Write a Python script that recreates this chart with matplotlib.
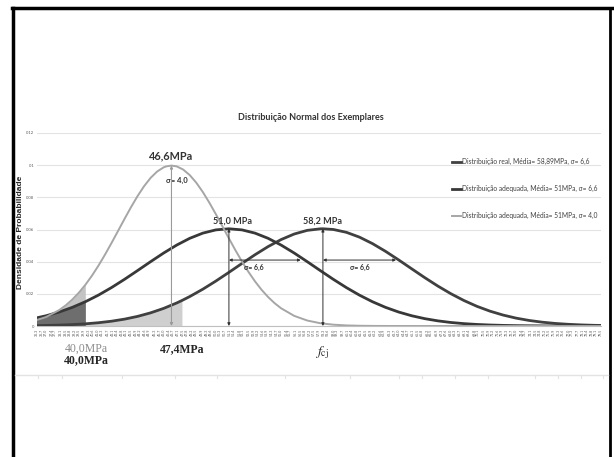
import numpy as np
import matplotlib
matplotlib.use('Agg')
import matplotlib.pyplot as plt
from matplotlib.lines import Line2D

plt.rcParams['font.family'] = ['Lato', 'DejaVu Sans']

# Density values (real distribution, mean 58.2, sigma 6.6)
x_real = [36, 37, 38, 39, 40, 41, 42, 43, 44, 45, 46, 47, 47.4, 48, 49, 50, 51, 52, 53, 54,
          55, 56, 57, 58, 58.2, 59, 60, 61, 62, 63, 64, 65, 66, 67, 68, 69, 70, 71, 72, 73,
          74, 75, 76, 77, 78, 79, 80]
y_real = [0.00021, 0.00035, 0.00056, 0.00088, 0.00135, 0.00203, 0.00297, 0.00426, 0.00597,
          0.00818, 0.01095, 0.01432, 0.01585, 0.01831, 0.02288, 0.02794, 0.03335, 0.03889,
          0.04432, 0.04937, 0.05375, 0.05719, 0.05946, 0.06042, 0.06045, 0.06001, 0.05824,
          0.05525, 0.05121, 0.04640, 0.04109, 0.03556, 0.03007, 0.02485, 0.02008, 0.01585,
          0.01222, 0.00922, 0.00680, 0.00489, 0.00344, 0.00237, 0.00159, 0.00105, 0.00067,
          0.00042, 0.00026]

# Adequate distribution, mean 51, sigma 6.6
x_adq = list(range(36, 81))
y_adq = [0.00457, 0.00637, 0.00869, 0.01158, 0.01507, 0.01918, 0.02386, 0.02900, 0.03445,
         0.03999, 0.04537, 0.05031, 0.05452, 0.05774, 0.05976, 0.06045, 0.05976, 0.05774,
         0.05452, 0.05031, 0.04537, 0.03999, 0.03445, 0.02900, 0.02386, 0.01918, 0.01507,
         0.01158, 0.00869, 0.00637, 0.00457, 0.00320, 0.00219, 0.00147, 0.00096, 0.00061,
         0.00038, 0.00023, 0.00014, 0.00008, 0.00005, 0.00003, 0.00002, 0.00001, 0.00001]

# Adequate distribution, sigma 4.0 (peak at 46.6)
x_adq4 = [36, 37, 38, 38.5, 39, 39.5, 40, 40.5, 41, 41.5, 42, 42.5, 43, 43.5, 44, 44.5, 45,
          45.5, 46, 46.2, 46.6, 47, 47.5, 48, 48.5, 49, 49.5, 50, 50.5, 51, 51.5, 52, 52.5,
          53, 53.5, 54, 54.5, 55, 56, 57, 58, 59, 60, 61, 62, 63, 64, 65, 66, 67, 68, 69, 70,
          71, 72, 73, 74, 75, 76, 77, 78, 79, 80]
y_adq4 = [0.00298, 0.00560, 0.00989, 0.01284, 0.01640, 0.02064, 0.02557, 0.03118, 0.03743,
          0.04425, 0.05149, 0.05899, 0.06653, 0.07387, 0.08075, 0.08690, 0.09208, 0.09604,
          0.09863, 0.09925, 0.09974, 0.09925, 0.09725, 0.09382, 0.08910, 0.08332, 0.07669,
          0.06951, 0.06201, 0.05447, 0.04710, 0.04010, 0.03361, 0.02773, 0.02253, 0.01802,
          0.01419, 0.01100, 0.00630, 0.00340, 0.00172, 0.00082, 0.00036, 0.00015, 0.00006,
          0.00002, 0.00001, 0, 0, 0, 0, 0, 0, 0, 0, 0, 0, 0, 0, 0, 0, 0, 0]

legend_labels = ['Distribuição real, Média= 58,89MPa, σ= 6,6',
                 'Distribuição adequada, Média= 51MPa, σ= 6,6',
                 'Distribuição adequada, Média= 51MPa, σ= 4,0']
x_ticks = np.round(np.arange(36.3, 79.6, 0.36), 1)
y_ticks = [0, 0.02, 0.04, 0.06, 0.08, 0.1, 0.12]
y_tick_labels = ['0', '0.02', '0.04', '0.06', '0.08', '0.1', '0.12']

W, H = 614, 457
fig = plt.figure(figsize=(W / 100, H / 100), dpi=100)
fig.patch.set_facecolor('white')


def fx(px):
    return px / W


def fy(py):
    return 1 - py / H


ax = fig.add_axes([fx(37), fy(326), fx(601) - fx(37), fy(133) - fy(326)])
ax.set_xlim(36.3, 79.5)
ax.set_ylim(0, 0.12)

# shaded areas
xr, yr = np.array(x_real), np.array(y_real)
m = xr <= 47.4
ax.fill_between(xr[m], 0, yr[m], color='#cfcfcf', lw=0, zorder=1)
xc, yc = np.array(x_adq4), np.array(y_adq4)
m = xc <= 40.0
ax.fill_between(xc[m], 0, yc[m], color='#c4c4c4', lw=0, zorder=1)
xa, ya = np.array(x_adq), np.array(y_adq)
m = xa <= 40.0
ax.fill_between(xa[m], 0, ya[m], color='#6e6e6e', lw=0, zorder=1.5)

ax.plot(x_real, y_real, color='#404040', lw=2, label=legend_labels[0], zorder=3)
ax.plot(x_adq, y_adq, color='#383838', lw=2, label=legend_labels[1], zorder=3)
ax.plot(x_adq4, y_adq4, color='#a6a6a6', lw=1.4, label=legend_labels[2], zorder=3)

ax.set_yticks(y_ticks)
ax.set_yticklabels(y_tick_labels, fontsize=3, color='#595959')
ax.set_xticks(x_ticks)
ax.set_xticklabels([f'{v:.1f}' for v in x_ticks], rotation=90, fontsize=2.6, color='#595959')
ax.tick_params(axis='both', length=0, pad=2)
ax.grid(axis='y', color='#e3e3e3', lw=0.8)
ax.set_axisbelow(True)
for s in ['top', 'right', 'left']:
    ax.spines[s].set_visible(False)
ax.spines['bottom'].set_color('#bfbfbf')
fig.text(fx(21), fy(232), 'Densidade de Probabilidade', rotation=90, ha='center', va='center',
         fontsize=6, fontweight='bold', family='Liberation Sans', color='#262626')

# peak arrows
peak4 = max(y_adq4)
peak_adq = max(y_adq)
peak_real = max(y_real)
arrow_dark = dict(arrowstyle='<|-|>', color='#303030', lw=0.7, mutation_scale=4,
                  shrinkA=0, shrinkB=0)
ax.annotate('', xy=(46.6, peak4), xytext=(46.6, 0),
            arrowprops=dict(arrow_dark, color='#9a9a9a', lw=0.8), zorder=4)
ax.annotate('', xy=(51.0, peak_adq), xytext=(51.0, 0), arrowprops=arrow_dark, zorder=4)
ax.annotate('', xy=(58.2, peak_real), xytext=(58.2, 0), arrowprops=arrow_dark, zorder=4)
# sigma arrows
ax.annotate('', xy=(56.5, 0.041), xytext=(51.0, 0.041), arrowprops=arrow_dark, zorder=4)
ax.annotate('', xy=(63.8, 0.041), xytext=(58.2, 0.041), arrowprops=arrow_dark, zorder=4)

ax.text(46.6, peak4 + 0.0025, '46,6MPa', ha='center', va='bottom', fontsize=7.8,
        fontweight='bold', color='#333333')
ax.text(51.3, peak_adq + 0.002, '51,0 MPa', ha='center', va='bottom', fontsize=6.5,
        fontweight='bold', color='#333333')
ax.text(58.2, peak_adq + 0.002, '58,2 MPa', ha='center', va='bottom', fontsize=6.5,
        fontweight='bold', color='#333333')
ax.text(47.0, 0.0905, 'σ= 4,0', ha='center', va='center', fontsize=5.5, color='#333333',
        fontweight='bold')
ax.text(52.9, 0.0365, 'σ= 6,6', ha='center', va='center', fontsize=5, color='#333333',
        fontweight='bold')
ax.text(61.0, 0.0365, 'σ= 6,6', ha='center', va='center', fontsize=5, color='#333333',
        fontweight='bold')

leg = ax.legend(loc='upper left', bbox_to_anchor=((452 - 37) / (601 - 37), (326 - 158) / 193),
                frameon=False, fontsize=4.8, handlelength=1.3, handletextpad=0.2,
                labelspacing=3.0, borderaxespad=0, borderpad=0)
for t in leg.get_texts():
    t.set_color('#404040')

fig.text(fx(311), fy(117), 'Distribuição Normal dos Exemplares', ha='center', va='center',
         fontsize=6.5, color='#333333', fontweight='bold')

# labels below the axis
fig.text(fx(86), fy(349), '40,0MPa', ha='center', va='center', fontsize=8.5,
         family='Liberation Serif', color='#8c8c8c')
fig.text(fx(86), fy(360), '40,0MPa', ha='center', va='center', fontsize=8.5,
         family='Liberation Serif', color='#262626', fontweight='bold')
fig.text(fx(182), fy(349), '47,4MPa', ha='center', va='center', fontsize=8.5,
         family='Liberation Serif', color='#262626', fontweight='bold')
fig.text(fx(322), fy(353), r'$f_{\mathrm{cj}}$', ha='center', va='center', fontsize=10,
         math_fontfamily='stix', color='#262626')

# frame and edge of the next chart
fig.add_artist(Line2D([fx(12), fx(612)], [fy(8), fy(8)], color='black', lw=2.5))
fig.add_artist(Line2D([fx(13), fx(13)], [fy(8), 0], color='black', lw=2.5))
fig.add_artist(Line2D([fx(610), fx(610)], [fy(8), 0], color='black', lw=2))
fig.add_artist(Line2D([fx(15), fx(608)], [fy(375), fy(375)], color='#e3e3e3', lw=1))
for tx in [38, 62, 122, 175, 217, 285, 350, 399, 422, 455, 488, 535, 558, 581, 603]:
    fig.add_artist(Line2D([fx(tx), fx(tx)], [fy(375), fy(378)], color='#e3e3e3', lw=0.8))

fig.savefig('out.png', dpi=100)
